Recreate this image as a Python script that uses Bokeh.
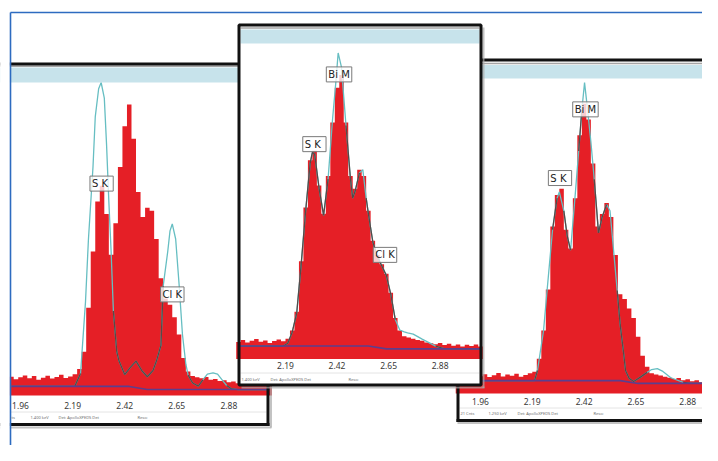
import numpy as np
from bokeh.plotting import figure
from bokeh.models import Range1d
from bokeh.embed import file_html
from bokeh.resources import INLINE
from bokeh.core.properties import value

STEP = 0.02  # keV per channel

# ---------------- left panel ----------------
left_e0 = 1.92
left_counts = [6.0, 5.2, 5.8, 6.4, 5.5, 6.2, 5.0, 5.7, 6.3, 5.4, 5.9, 6.6, 5.6, 6.1, 6.8,
               8.5, 14, 28, 46, 62, 67, 58, 45, 55, 73, 86, 93, 82, 65, 57, 60, 59, 50, 37.5,
               31, 29, 25, 19.5, 12, 7.7,
               6.2, 5.8, 5.5, 5.9, 5.0, 5.3, 4.6, 4.9, 4.2, 4.5, 3.9, 4.3, 3.8, 4.1, 3.6, 3.9, 3.5, 3.7]
left_fit_e = [1.92, 2.20, 2.225, 2.247, 2.26, 2.28, 2.29, 2.305, 2.316, 2.33,
              2.34, 2.35, 2.36, 2.37, 2.385, 2.395, 2.42, 2.445, 2.47, 2.495,
              2.52, 2.545, 2.56, 2.58, 2.59, 2.61, 2.62, 2.63, 2.645, 2.66,
              2.675, 2.69, 2.70, 2.72, 2.745, 2.765, 2.785, 2.81, 2.83, 2.85,
              2.87, 2.89, 2.92, 3.06]
left_fit = [2.9, 3.0, 7.0, 30, 50, 73, 89, 98, 100, 95,
            80, 62, 46, 27, 14, 11, 6.7, 9, 11, 8,
            6, 8, 11, 16, 35, 46, 52.6, 54.8, 50, 35.6,
            19.5, 10, 6.5, 4, 3, 5, 6.8, 7.2, 6.8, 5,
            3.2, 2.2, 1.9, 1.9]
left_bg_e = [1.92, 2.44, 2.52, 3.06]
left_bg = [2.9, 2.9, 1.9, 1.9]
left_ticks = [1.96, 2.19, 2.42, 2.65, 2.88]
left_tick_labels = ["1.96", "2.19", "2.42", "2.65", "2.88"]
left_peaks = ["S  K", "Cl K"]
left_peak_e = [2.318, 2.63]
left_peak_y = [67.7, 32.3]

# ---------------- middle panel ----------------
mid_e0 = 1.98
mid_counts = [5.4, 6.0, 5.2, 5.8, 6.3, 5.5, 5.9, 5.1, 5.7, 6.2, 5.6, 6.4,
              9, 15, 31, 48, 63, 66, 55, 46, 58, 75, 86, 90, 75, 58, 54, 60, 58, 47, 37.5,
              33, 30, 27, 21, 13, 9,
              7.2, 6.8, 6.4, 6.0, 5.8, 5.2, 5.0, 4.7, 5.1, 4.4, 4.8, 4.2, 4.6, 4.0, 4.5, 4.1, 4.6, 4.0]
mid_fit_e = [1.98, 2.18, 2.20, 2.22, 2.24, 2.26, 2.28, 2.30, 2.31, 2.32,
             2.34, 2.36, 2.38, 2.40, 2.415, 2.425, 2.44, 2.45, 2.46, 2.48,
             2.49, 2.50, 2.52, 2.535, 2.55, 2.56, 2.58, 2.60, 2.62, 2.64,
             2.66, 2.68, 2.70, 2.72, 2.735, 2.76, 2.80, 2.83, 2.86, 2.90, 3.06]
mid_fit = [4.1, 4.1, 5, 8.5, 14.5, 30, 47, 62, 65.5, 65,
           54, 45.5, 57, 76, 88, 97, 92.4, 83, 74, 57,
           51, 53, 59, 60, 51, 46, 37, 32.5, 29.5, 26.5,
           20.5, 12.5, 9.2, 8.6, 8.3, 7.9, 6.3, 5.2, 4.1, 3.2, 3.2]
mid_bg_e = [1.98, 2.56, 2.64, 3.06]
mid_bg = [4.1, 4.1, 3.2, 3.2]
mid_ticks = [2.19, 2.42, 2.65, 2.88]
mid_tick_labels = ["2.19", "2.42", "2.65", "2.88"]
mid_peaks = ["S  K", "Bi M", "Cl K"]
mid_peak_e = [2.319, 2.429, 2.634]
mid_peak_y = [68.1, 90.2, 33.0]

# ---------------- right panel ----------------
right_e0 = 1.86
right_counts = [5.6, 6.2, 5.3, 5.9, 6.4, 5.5, 6.1, 5.2, 5.8, 6.5, 5.4, 6.0, 5.6, 6.3, 5.3, 5.9, 6.4, 6.9,
                11, 20, 33, 53, 63, 65, 52, 46, 62, 82, 92, 87, 73, 53, 57, 60.5, 56, 44, 31.5,
                30, 27, 24, 18, 12, 8.5,
                6.4, 6.0, 5.7, 5.3, 5.0, 4.6, 4.9, 4.2, 4.5, 3.9, 4.2, 3.6, 4.0, 3.5]
right_fit_e = [1.86, 2.20, 2.213, 2.24, 2.256, 2.28, 2.30, 2.31, 2.33, 2.345,
               2.36, 2.382, 2.396, 2.41, 2.422, 2.434, 2.45, 2.465, 2.484, 2.50,
               2.52, 2.535, 2.551, 2.567, 2.58, 2.594, 2.604, 2.62, 2.64, 2.67,
               2.70, 2.72, 2.745, 2.77, 2.805, 2.86, 2.90, 2.98]
right_fit = [4.1, 4.1, 7.3, 20, 33, 52, 62, 64, 58, 50,
             45.5, 64.4, 77, 90, 98.7, 91, 80, 68, 51, 56,
             60, 58, 45.4, 32.7, 22, 13.7, 7.3, 4.8, 3.8, 5.2,
             6.7, 7.6, 7.9, 7.0, 5.0, 3.5, 3.2, 3.2]
right_bg_e = [1.86, 2.58, 2.66, 2.98]
right_bg = [4.1, 4.1, 3.2, 3.2]
right_ticks = [1.96, 2.19, 2.42, 2.65, 2.88]
right_tick_labels = ["1.96", "2.19", "2.42", "2.65", "2.88"]
right_peaks = ["S  K", "Bi M"]
right_peak_e = [2.313, 2.426]
right_peak_y = [68.4, 90.2]

RED = "#e51f26"
CYAN = "#66bec2"
DARK = "#564a48"
PURPLE = "#5b3f8f"
BAND = "#c7e3eb"
BORDER = "#111111"
SHADOW = "#a9a9a9"
FRAME_BLUE = "#2d6bc0"

p = figure(width=702, height=445, x_range=Range1d(0, 702), y_range=Range1d(445, 0),
           output_backend="svg", toolbar_location=None, min_border=0,
           x_axis_location=None, y_axis_location=None, outline_line_color=None,
           background_fill_color="white", border_fill_color="white")
p.xgrid.visible = False
p.ygrid.visible = False


def draw_spectrum(xs, xt, yt, e0, counts, fit_e, fit, bg_e, bg,
                  ticks, tick_labels, tick_off, peaks, peak_e, peak_y):
    sub = p.subplot(x_source=Range1d(*xs), y_source=Range1d(0, 100),
                    x_target=Range1d(*xt), y_target=Range1d(*yt))
    c = np.asarray(counts, dtype=float)
    e = np.round(e0 + STEP * np.arange(len(c)), 4)
    # histogram outline: each channel spans [e - STEP/2, e + STEP/2]
    sx = np.column_stack([e - STEP / 2, e + STEP / 2]).ravel()
    sy = np.repeat(c, 2)
    sub.varea(x=sx, y1=np.zeros_like(sy), y2=sy, fill_color=RED)
    fe = np.asarray(fit_e, dtype=float)
    fv = np.asarray(fit, dtype=float)
    idx = np.clip(np.floor((fe - e0) / STEP + 0.5).astype(int), 0, len(c) - 1)
    inside = np.where(fv < c[idx], fv, np.nan)
    sub.line(fe, fv, line_color=CYAN, line_width=1.3)
    sub.line(fe, inside, line_color=DARK, line_width=1.3)
    sub.line(bg_e, bg, line_color=PURPLE, line_width=1.6)
    sub.text(x=peak_e, y=peak_y, text=peaks, text_align="center", text_baseline="middle",
             text_font=value("DejaVu Sans"), text_font_size="10px", text_color="#222222",
             background_fill_color="white", background_fill_alpha=0.78,
             border_line_color="#7a7a7a", border_line_width=1, padding=2)
    sub.text(x=ticks, y=[0] * len(ticks), text=tick_labels, y_offset=tick_off,
             text_align="center", text_baseline="middle",
             text_font=value("Noto Sans"), text_font_size="8.5px", text_color="#3a3a3a")


def footer(xs, y, texts):
    p.text(x=xs, y=[y] * len(xs), text=texts, text_align="left", text_baseline="middle",
           text_font=value("Noto Sans"), text_font_size="4px", text_color="#6a6a6a")


# ---- left panel ----
p.quad(left=0, right=268, top=63, bottom=425, fill_color="white", line_color=None)
draw_spectrum((1.96, 2.88), (20, 228.4), (395, 82), left_e0, left_counts, left_fit_e, left_fit,
              left_bg_e, left_bg, left_ticks, left_tick_labels, 10,
              left_peaks, left_peak_e, left_peak_y)
p.quad(left=0, right=268, top=67, bottom=82, fill_color=BAND, line_color=None)
p.segment(x0=0, y0=65.8, x1=268, y1=65.8, line_color="#a5a5a5", line_width=1.5)
p.segment(x0=0, y0=411.5, x1=266, y1=411.5, line_color="#e4e4e4", line_width=1)
footer([11, 30, 58, 137], 417, ["ts", "1.400 keV", "Det: ApolloXPEDS Det", "Reso:"])
p.segment(x0=[270.5, 0], y0=[66, 427], x1=[270.5, 271], y1=[427, 427],
          line_color=SHADOW, line_width=2, line_alpha=0.7)
p.segment(x0=[0, 267.5, 0], y0=[63.5, 62, 424], x1=[268, 267.5, 269], y1=[63.5, 425.5, 424],
          line_color=BORDER, line_width=3)

# ---- right panel ----
p.quad(left=457, right=720, top=59, bottom=420, fill_color="white", line_color=None)
draw_spectrum((1.96, 2.88), (480, 687.2), (393, 78), right_e0, right_counts, right_fit_e, right_fit,
              right_bg_e, right_bg, right_ticks, right_tick_labels, 8,
              right_peaks, right_peak_e, right_peak_y)
p.quad(left=457, right=720, top=64.5, bottom=78, fill_color=BAND, line_color=None)
p.segment(x0=457, y0=63, x1=720, y1=63, line_color="#a5a5a5", line_width=1.5)
p.segment(x0=459, y0=407.5, x1=720, y1=407.5, line_color="#e4e4e4", line_width=1)
footer([460, 488, 517, 593], 412.5, ["21 Cnts", "1.250 keV", "Det: ApolloXPEDS Det", "Reso:"])
p.segment(x0=457, y0=422.5, x1=720, y1=422.5, line_color=SHADOW, line_width=2, line_alpha=0.7)
p.segment(x0=[456, 457.5, 456], y0=[59.5, 58, 420], x1=[720, 457.5, 720], y1=[59.5, 421.5, 420],
          line_color=BORDER, line_width=3)

# ---- middle panel (on top) ----
p.segment(x0=[483, 241], y0=[27, 387], x1=[483, 484], y1=[387.5, 387],
          line_color=SHADOW, line_width=2, line_alpha=0.7)
p.quad(left=238.5, right=480.5, top=24.5, bottom=384.5, fill_color="white", line_color=None)
draw_spectrum((2.19, 2.88), (285, 439.6), (358.5, 43), mid_e0, mid_counts, mid_fit_e, mid_fit,
              mid_bg_e, mid_bg, mid_ticks, mid_tick_labels, 6.5,
              mid_peaks, mid_peak_e, mid_peak_y)
p.quad(left=240, right=479, top=29, bottom=43, fill_color=BAND, line_color=None)
p.segment(x0=240, y0=27.5, x1=479, y1=27.5, line_color="#a5a5a5", line_width=1.5)
p.segment(x0=240, y0=372.5, x1=479, y1=372.5, line_color="#e4e4e4", line_width=1)
footer([241, 270, 348], 379, ["1.400 keV", "Det: ApolloXPEDS Det", "Reso:"])
p.quad(left=238.5, right=480.5, top=24.5, bottom=384.5, fill_color=None,
       line_color=BORDER, line_width=3)

# ---- outer page frame ----
p.quad(left=-5, right=9.4, top=-5, bottom=460, fill_color="white", line_color=None)
p.segment(x0=[10, 10], y0=[12, 12], x1=[720, 10], y1=[12, 460],
          line_color=FRAME_BLUE, line_width=1.6)

open("out.html", "w").write(file_html(p, INLINE))
